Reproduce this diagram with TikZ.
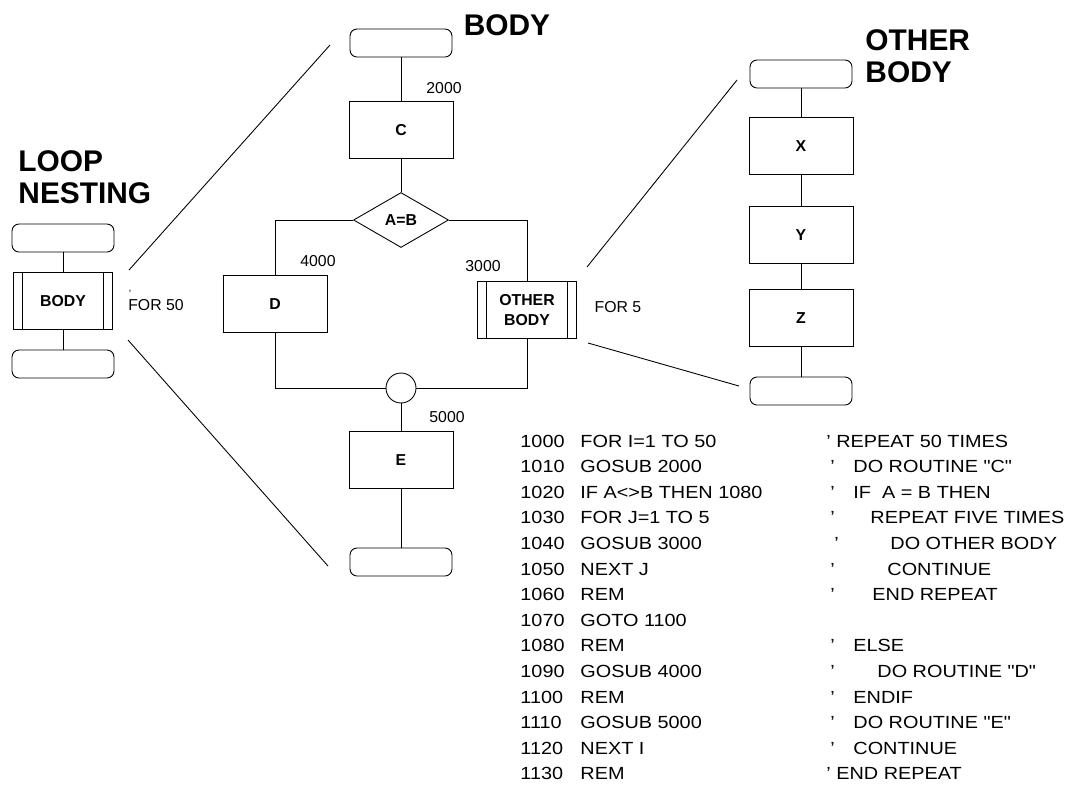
\documentclass[tikz,border=0pt]{standalone}
\usepackage{fontspec}
\setmainfont{Liberation Sans}
\newfontfamily\codefont[FakeStretch=1.13]{Liberation Sans}
\usetikzlibrary{shapes.geometric}

\begin{document}
\begin{tikzpicture}[x=0.02cm,y=-0.02cm,line width=0.5pt,
 every node/.style={font=\fontsize{9}{11}\selectfont},
 ttl/.style={font=\bfseries\fontsize{17}{18.5}\selectfont,align=left,inner sep=0},
 term/.style={draw,rounded corners=0.14cm,minimum width=2.04cm,minimum height=0.56cm},
 proc/.style={draw,minimum width=2.08cm,minimum height=1.14cm,align=center,font=\bfseries\fontsize{9}{11.5}\selectfont},
 pproc/.style={proc,minimum width=1.98cm,path picture={
   \draw ([xshift=0.18cm]path picture bounding box.north west)--([xshift=0.18cm]path picture bounding box.south west)
         ([xshift=-0.18cm]path picture bounding box.north east)--([xshift=-0.18cm]path picture bounding box.south east);}},
 dec/.style={draw,diamond,minimum width=1.9cm,minimum height=1.1cm,inner sep=0,font=\bfseries\fontsize{9}{10}\selectfont},
 jn/.style={draw,circle,minimum size=0.6cm,inner sep=0},
 lbl/.style={inner sep=0},
 code/.style={font=\codefont\fontsize{10}{12}\selectfont,anchor=base west,inner sep=0}]
\useasboundingbox (0,0) rectangle (1081,796);
% loop nesting
\node[ttl,anchor=west] (tLoop) at (18,177) {LOOP\\NESTING};
\node[term] (lT) at (63,238) {};
\node[pproc] (lB) at (63,301) {BODY};
\node[term] (lE) at (63,364) {};
\node[lbl] (for50) at (156,305) {FOR 50};
\node[lbl,font=\fontsize{6}{6}\selectfont] (tick) at (130,294) {’};
\draw (lT)--(lB)--(lE);
% body
\node[ttl] (tBody) at (507,25) {BODY};
\node[term] (bT) at (401,43) {};
\node[proc] (C) at (401,130) {C};
\node[dec] (AB) at (401,220) {A=B};
\node[proc] (D) at (275,304) {D};
\node[pproc] (OB) at (527,310) {OTHER\\BODY};
\node[jn] (J) at (401,388) {};
\node[proc] (E) at (401,460) {E};
\node[term] (bE) at (401,562) {};
\node[lbl] (l2000) at (444,88) {2000};
\node[lbl] (l4000) at (318,261) {4000};
\node[lbl] (l3000) at (483,266) {3000};
\node[lbl] (l5000) at (447,417) {5000};
\node[lbl] (for5) at (618,307) {FOR 5};
\draw (bT)--(C)--(AB);
\draw (AB.west)-|(D.north); \draw (AB.east)-|(OB.north);
\draw (D.south)|-(J.west); \draw (OB.south)|-(J.east);
\draw (J)--(E)--(bE);
% other body
\node[ttl,anchor=west] (tOther) at (865,56) {OTHER\\BODY};
\node[term] (oT) at (801,74) {};
\node[proc] (X) at (801,146) {X};
\node[proc] (Y) at (801,235) {Y};
\node[proc] (Z) at (801,318) {Z};
\node[term] (oE) at (801,391) {};
\draw (oT)--(X)--(Y)--(Z)--(oE);
% zoom lines
\coordinate (lBup) at (129,270); \coordinate (bTin) at (330,45);
\coordinate (lBdn) at (128,340); \coordinate (bEin) at (328,566);
\coordinate (OBup) at (587,267); \coordinate (oTin) at (737,80);
\coordinate (OBdn) at (588,343); \coordinate (oEin) at (739,386);
\draw (lBup)--(bTin); \draw (lBdn)--(bEin);
\draw (OBup)--(oTin); \draw (OBdn)--(oEin);
% program
\node[code] (n1000) at (520,447) {1000}; \node[code] (s1000) at (580,447) {FOR I=1 TO 50};
\node[code] (n1010) at (520,472.6) {1010}; \node[code] (s1010) at (580,472.6) {GOSUB 2000};
\node[code] (n1020) at (520,498.2) {1020}; \node[code] (s1020) at (580,498.2) {IF A<>B THEN 1080};
\node[code] (n1030) at (520,523.8) {1030}; \node[code] (s1030) at (580,523.8) {FOR J=1 TO 5};
\node[code] (n1040) at (520,549.4) {1040}; \node[code] (s1040) at (580,549.4) {GOSUB 3000};
\node[code] (n1050) at (520,575) {1050}; \node[code] (s1050) at (580,575) {NEXT J};
\node[code] (n1060) at (520,600.6) {1060}; \node[code] (s1060) at (580,600.6) {REM};
\node[code] (n1070) at (520,626.2) {1070}; \node[code] (s1070) at (580,626.2) {GOTO 1100};
\node[code] (n1080) at (520,651.8) {1080}; \node[code] (s1080) at (580,651.8) {REM};
\node[code] (n1090) at (520,677.4) {1090}; \node[code] (s1090) at (580,677.4) {GOSUB 4000};
\node[code] (n1100) at (520,703) {1100}; \node[code] (s1100) at (580,703) {REM};
\node[code] (n1110) at (520,728.6) {1110}; \node[code] (s1110) at (580,728.6) {GOSUB 5000};
\node[code] (n1120) at (520,754.2) {1120}; \node[code] (s1120) at (580,754.2) {NEXT I};
\node[code] (n1130) at (520,779.8) {1130}; \node[code] (s1130) at (580,779.8) {REM};
% comments
\node[code] (c1000) at (826,447) {’ REPEAT 50 TIMES};
\node[code] (q1010) at (830,472.6) {’}; \node[code] (c1010) at (853,472.6) {DO ROUTINE "C"};
\node[code] (q1020) at (830,498.2) {’}; \node[code] (c1020) at (853,498.2) {IF\ \ A = B THEN};
\node[code] (q1030) at (830,523.8) {’}; \node[code] (c1030) at (870,523.8) {REPEAT FIVE TIMES};
\node[code] (q1040) at (834,549.4) {’}; \node[code] (c1040) at (890,549.4) {DO OTHER BODY};
\node[code] (q1050) at (830,575) {’}; \node[code] (c1050) at (887,575) {CONTINUE};
\node[code] (q1060) at (830,600.6) {’}; \node[code] (c1060) at (872,600.6) {END REPEAT};
\node[code] (q1080) at (830,651.8) {’}; \node[code] (c1080) at (853,651.8) {ELSE};
\node[code] (q1090) at (830,677.4) {’}; \node[code] (c1090) at (877,677.4) {DO ROUTINE "D"};
\node[code] (q1100) at (830,703) {’}; \node[code] (c1100) at (853,703) {ENDIF};
\node[code] (q1110) at (830,728.6) {’}; \node[code] (c1110) at (853,728.6) {DO ROUTINE "E"};
\node[code] (q1120) at (830,754.2) {’}; \node[code] (c1120) at (853,754.2) {CONTINUE};
\node[code] (c1130) at (826,779.8) {’ END REPEAT};
\end{tikzpicture}
\end{document}
